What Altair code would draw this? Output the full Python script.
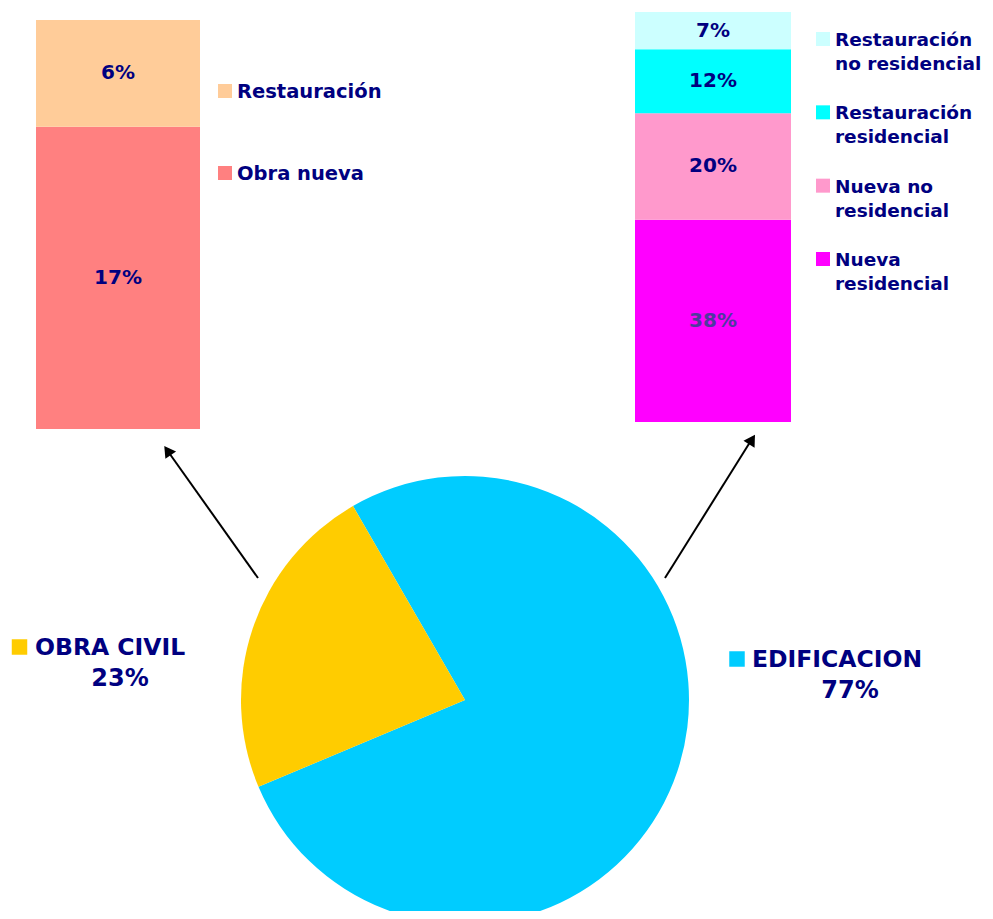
import math
import altair as alt
import pandas as pd

# ---------------- data ----------------
pie_categories = ["EDIFICACION", "OBRA CIVIL"]
pie_values = [77, 23]
pie_colors = ["#00CCFF", "#FFCC00"]

civil_categories = ["Obra nueva", "Restauración"]          # bottom -> top
civil_values = [17, 6]
civil_colors = ["#FF8080", "#FFCC99"]
civil_label_colors = ["#000080", "#000080"]

edif_categories = ["Nueva residencial", "Nueva no residencial",
                   "Restauración residencial", "Restauración no residencial"]  # bottom -> top
edif_values = [38, 20, 12, 7]
edif_colors = ["#FF00FF", "#FF99CC", "#00FFFF", "#CCFFFF"]
edif_label_colors = ["#4E3A9E", "#000080", "#000080", "#000080"]
edif_legend_labels = ["Nueva\nresidencial", "Nueva no\nresidencial",
                      "Restauración\nresidencial", "Restauración\nno residencial"]

NAVY = "#000080"
FONT = "DejaVu Sans"

# ---------------- helpers ----------------
def stacked_bar(cats, vals, colors, label_colors, legend_labels, xr, yr, leg_x, leg_yr, leg_fs):
    df = pd.DataFrame({
        "cat": cats,
        "value": vals,
        "order": list(range(len(cats))),
        "label": [f"{v}%" for v in vals],
        "legend": legend_labels,
        "lcol": label_colors,
    })
    base = alt.Chart(df).transform_stack(
        stack="value", groupby=[], as_=["y0", "y1"],
        sort=[alt.SortField("order")], offset="normalize"
    ).transform_calculate(mid="(datum.y0 + datum.y1) / 2", grp="'g'")
    xs = alt.X("grp:N", scale=alt.Scale(range=xr, paddingInner=0, paddingOuter=0), axis=None)
    ys = alt.Scale(domain=[0, 1], range=yr)
    bars = base.mark_bar().encode(
        x=xs,
        y=alt.Y("y0:Q", scale=ys, axis=None),
        y2="y1:Q",
        color=alt.Color("cat:N", scale=alt.Scale(domain=cats, range=colors), legend=None),
    )
    labels = base.mark_text(font=FONT, fontWeight="bold", fontSize=20,
                            baseline="middle", align="center").encode(
        x=xs,
        y=alt.Y("mid:Q", scale=ys, axis=None),
        text="label:N",
        color=alt.Color("lcol:N", scale=None),
    )
    leg_order = list(reversed(cats))
    ly = alt.Y("cat:N", scale=alt.Scale(type="point", domain=leg_order, range=leg_yr, padding=0), axis=None)
    leg_sq = alt.Chart(df).mark_square(size=196, opacity=1).encode(
        x=alt.value(leg_x),
        y=ly,
        color=alt.Color("cat:N", scale=alt.Scale(domain=cats, range=colors), legend=None),
    )
    leg_tx = alt.Chart(df).mark_text(font=FONT, fontWeight="bold", fontSize=leg_fs, color=NAVY,
                                     align="left", baseline="alphabetic", lineBreak="\n",
                                     lineHeight=24, dy=7).encode(
        x=alt.value(leg_x + 12),
        y=ly,
        text="legend:N",
    )
    return alt.layer(bars, labels, leg_sq, leg_tx)


left = stacked_bar(civil_categories, civil_values, civil_colors, civil_label_colors, civil_categories,
                   [28, 192], [421, 12], 217, [83, 165], 19.5)
right = stacked_bar(edif_categories, edif_values, edif_colors, edif_label_colors, edif_legend_labels,
                    [627, 783], [414, 4], 815, [31, 251], 18.5)

# ---------------- pie ----------------
pie_df = pd.DataFrame({
    "cat": pie_categories,
    "value": pie_values,
    "order": [0, 1],
    "pct": [f"{v}%" for v in pie_values],
})
start = math.radians(330)
pie = alt.Chart(pie_df).mark_arc(outerRadius=224).encode(
    theta=alt.Theta("value:Q", stack=True, scale=alt.Scale(range=[start, start + 2 * math.pi])),
    color=alt.Color("cat:N", scale=alt.Scale(domain=pie_categories, range=pie_colors), legend=None),
    order=alt.Order("order:Q"),
    x=alt.value(457),
    y=alt.value(692),
)

pie_label_pos = {
    "OBRA CIVIL": dict(sq=(11.5, 639), name=(27, 640), pct=(112, 671)),
    "EDIFICACION": dict(sq=(729, 651), name=(744, 652), pct=(842, 683)),
}
pie_labels = []
for cat, color in zip(pie_categories, pie_colors):
    pos = pie_label_pos[cat]
    sub = alt.Chart(pie_df).transform_filter(alt.datum.cat == cat)
    pie_labels.append(sub.mark_square(size=240, opacity=1, color=color).encode(
        x=alt.value(pos["sq"][0]), y=alt.value(pos["sq"][1])))
    pie_labels.append(sub.mark_text(font=FONT, fontWeight="bold", fontSize=23.5, color=NAVY,
                                    align="left", baseline="middle").encode(
        x=alt.value(pos["name"][0]), y=alt.value(pos["name"][1]), text="cat:N"))
    pie_labels.append(sub.mark_text(font=FONT, fontWeight="bold", fontSize=24, color=NAVY,
                                    align="center", baseline="middle").encode(
        x=alt.value(pos["pct"][0]), y=alt.value(pos["pct"][1]), text="pct:N"))

# ---------------- arrows ----------------
arrow_df = pd.DataFrame({"a": [0]})
arrows = []
for (x1, y1, x2, y2, ang, cx, cy) in [
    (250, 570, 159, 442, 325, 159.5, 442.5),
    (657, 570, 744, 431, 32, 744.0, 431.5),
]:
    arrows.append(alt.Chart(arrow_df).mark_rule(color="black", strokeWidth=2).encode(
        x=alt.value(x1), y=alt.value(y1), x2=alt.value(x2), y2=alt.value(y2)))
    arrows.append(alt.Chart(arrow_df).mark_point(shape="triangle-up", filled=True, color="black",
                                                 size=170, opacity=1, angle=ang).encode(
        x=alt.value(cx), y=alt.value(cy)))

chart = alt.layer(pie, left, right, *pie_labels, *arrows).resolve_scale(
    x="independent", y="independent", color="independent", theta="independent"
).properties(
    width=977, height=903, padding=0, autosize="none"
).configure_view(stroke=None)

chart.save("out.html", embed_options={"renderer": "svg", "actions": False})
